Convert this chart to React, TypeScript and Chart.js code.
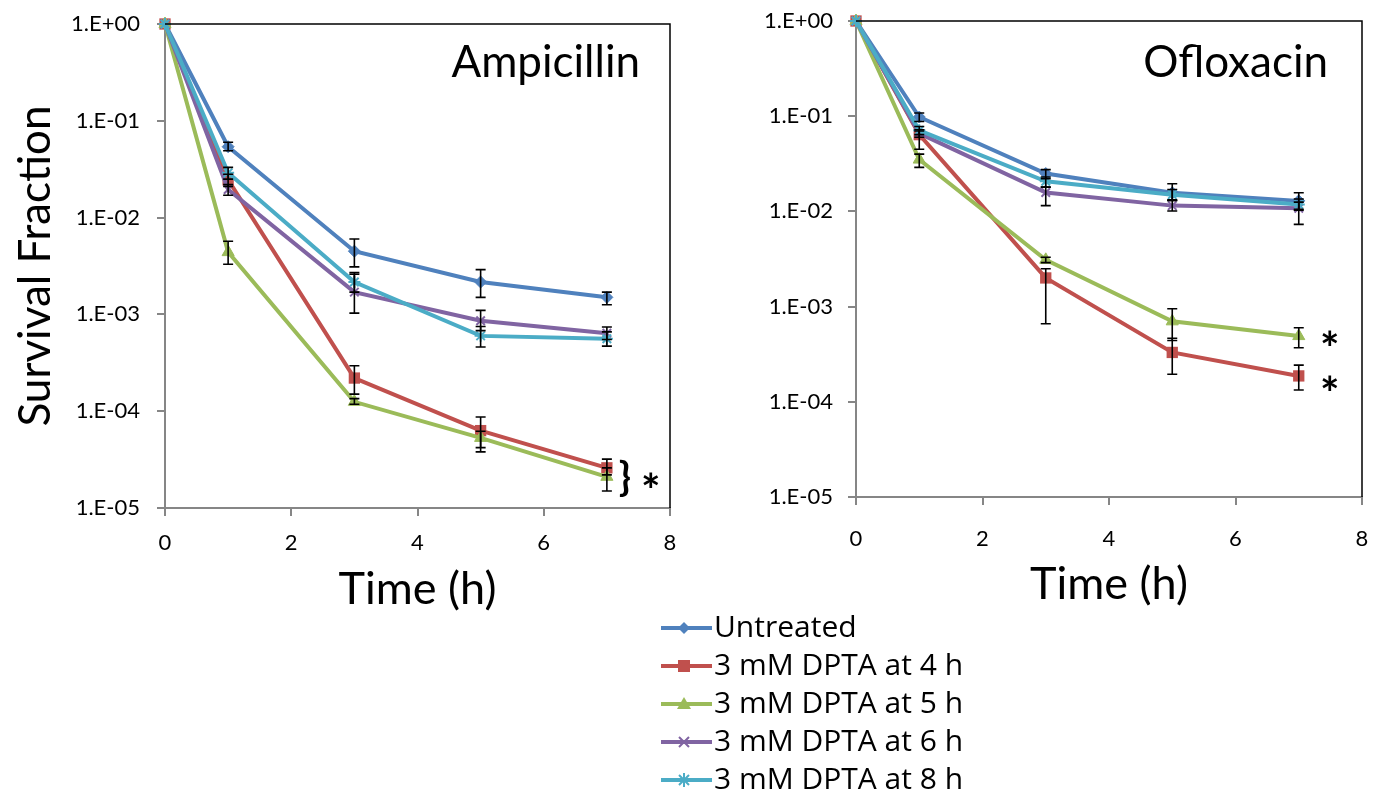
import React, { useEffect, useRef } from "react";
import { Chart, registerables } from "chart.js";
Chart.register(...registerables);

const FONT = "Lato, 'Open Sans', sans-serif";
const LEGEND_FONT = "'Open Sans', Lato, sans-serif";

// ---------- data ----------
const timesH = [0, 1, 3, 5, 7];
const seriesNames = [
  "Untreated",
  "3 mM DPTA at 4 h",
  "3 mM DPTA at 5 h",
  "3 mM DPTA at 6 h",
  "3 mM DPTA at 8 h",
];
const seriesColors = ["#4F81BD", "#C0504D", "#9BBB59", "#8064A2", "#4BACC6"];
const seriesMarkers = ["rectRot", "rect", "triangle", "crossRot", "star"];
const yTickValues = [1, 1e-1, 1e-2, 1e-3, 1e-4, 1e-5];
const yTickLabels = ["1.E+00", "1.E-01", "1.E-02", "1.E-03", "1.E-04", "1.E-05"];
const xTickValues = [0, 2, 4, 6, 8];

// Ampicillin
const ampUntreated = [1, 0.054, 0.0045, 0.00216, 0.0015];
const ampUntreatedHi = [null, 0.06, 0.006, 0.0029, 0.0017];
const ampUntreatedLo = [null, 0.049, 0.0031, 0.0015, 0.00126];
const ampDpta4 = [1, 0.0245, 0.00022, 0.000063, 0.000026];
const ampDpta4Hi = [null, 0.028, 0.000295, 0.000087, 0.000032];
const ampDpta4Lo = [null, 0.021, 0.00015, 0.000042, 0.000022];
const ampDpta5 = [1, 0.0044, 0.000125, 0.000053, 0.000021];
const ampDpta5Hi = [null, 0.0057, 0.000135, 0.000062, 0.000026];
const ampDpta5Lo = [null, 0.0033, 0.000118, 0.000038, 0.000015];
const ampDpta6 = [1, 0.0195, 0.0017, 0.00086, 0.00064];
const ampDpta6Hi = [null, 0.022, 0.0026, 0.0011, 0.00074];
const ampDpta6Lo = [null, 0.017, 0.00103, 0.00068, 0.00055];
const ampDpta8 = [1, 0.029, 0.00216, 0.0006, 0.00056];
const ampDpta8Hi = [null, 0.033, 0.0027, 0.00075, 0.00066];
const ampDpta8Lo = [null, 0.025, 0.0017, 0.00046, 0.00047];

// Ofloxacin
const oflUntreated = [1, 0.098, 0.025, 0.0157, 0.0129];
const oflUntreatedHi = [null, 0.108, 0.0275, 0.0195, 0.0157];
const oflUntreatedLo = [null, 0.088, 0.022, 0.013, 0.0105];
const oflDpta4 = [1, 0.064, 0.002, 0.00033, 0.000187];
const oflDpta4Hi = [null, 0.07, 0.0025, 0.000465, 0.000243];
const oflDpta4Lo = [null, 0.045, 0.00066, 0.000195, 0.000133];
const oflDpta5 = [1, 0.035, 0.0031, 0.0007, 0.00049];
const oflDpta5Hi = [null, 0.04, 0.0033, 0.00095, 0.0006];
const oflDpta5Lo = [null, 0.029, 0.0029, 0.00044, 0.00037];
const oflDpta6 = [1, 0.066, 0.0158, 0.0115, 0.0108];
const oflDpta6Hi = [null, 0.072, 0.018, 0.013, 0.0125];
const oflDpta6Lo = [null, 0.06, 0.0115, 0.0101, 0.0073];
const oflDpta8 = [1, 0.071, 0.0207, 0.015, 0.0118];
const oflDpta8Hi = [null, 0.078, 0.023, 0.017, 0.0135];
const oflDpta8Lo = [null, 0.064, 0.018, 0.0132, 0.0103];

// ---------- plugins ----------
const errorBarPlugin = {
  id: "errorBars",
  afterDatasetsDraw(chart: any) {
    const { ctx } = chart;
    const x = chart.scales.x;
    const y = chart.scales.y;
    ctx.save();
    ctx.strokeStyle = "#000";
    ctx.lineWidth = 1.6;
    chart.data.datasets.forEach((ds: any) => {
      (ds.errHi || []).forEach((h: number | null, j: number) => {
        const l = ds.errLo[j];
        if (h == null || l == null) return;
        const px = x.getPixelForValue(timesH[j]);
        const yh = y.getPixelForValue(h);
        const yl = y.getPixelForValue(l);
        ctx.beginPath();
        ctx.moveTo(px, yh);
        ctx.lineTo(px, yl);
        ctx.moveTo(px - 5, yh);
        ctx.lineTo(px + 5, yh);
        ctx.moveTo(px - 5, yl);
        ctx.lineTo(px + 5, yl);
        ctx.stroke();
      });
    });
    ctx.restore();
  },
};

const frameAndTextPlugin = {
  id: "frameText",
  afterDraw(chart: any) {
    const { ctx, chartArea } = chart;
    const o = chart.options.plugins.frameText;
    ctx.save();
    ctx.strokeStyle = "#000";
    ctx.lineWidth = 1.5;
    ctx.beginPath();
    ctx.moveTo(chartArea.left, chartArea.top);
    ctx.lineTo(chartArea.right, chartArea.top);
    ctx.lineTo(chartArea.right, chartArea.bottom);
    ctx.stroke();
    // drug name
    ctx.fillStyle = "#000";
    ctx.font = `44px ${FONT}`;
    ctx.textAlign = "right";
    ctx.textBaseline = "middle";
    ctx.fillText(o.drugName, chartArea.right - o.titleDx, chartArea.top + o.titleDy);
    // significance marks
    const x = chart.scales.x;
    const y = chart.scales.y;
    const ds = chart.data.datasets;
    const last = timesH.length - 1;
    const px = x.getPixelForValue(timesH[last]);
    ctx.textAlign = "center";
    if (o.marks === "brace") {
      const y1 = y.getPixelForValue(ds[1].data[last]);
      const y2 = y.getPixelForValue(ds[2].data[last]);
      const ym = (y1 + y2) / 2 + 6;
      ctx.font = `bold 40px ${FONT}`;
      ctx.fillText("}", px + 18, ym);
      ctx.font = `bold 46px ${FONT}`;
      ctx.fillText("*", px + 44, ym + 14);
    } else {
      ctx.font = `bold 46px ${FONT}`;
      [2, 1].forEach((k, n) => {
        const yy = y.getPixelForValue(ds[k].data[last]);
        ctx.fillText("*", px + 31, yy + 14 + n * 5);
      });
    }
    ctx.restore();
  },
};

function findTickLabel(v: number) {
  const i = yTickValues.findIndex((t) => Math.abs(Math.log10(t) - Math.log10(v)) < 1e-6);
  return i >= 0 ? yTickLabels[i] : "";
}

type PanelProps = {
  left: number;
  top: number;
  width: number;
  height: number;
  padTop: number;
  padRight: number;
  yAxisWidth: number;
  xAxisHeight: number;
  yTickPad: number;
  xTickPad: number;
  xTitlePadBottom: number;
  yTitle: string | null;
  drugName: string;
  titleDx: number;
  titleDy: number;
  marks: string;
  values: number[][];
  his: (number | null)[][];
  los: (number | null)[][];
};

function Panel(p: PanelProps) {
  const ref = useRef<HTMLCanvasElement | null>(null);
  useEffect(() => {
    if (!ref.current) return;
    const datasets = seriesNames.map((name, i) => ({
      label: name,
      data: p.values[i],
      borderColor: seriesColors[i],
      backgroundColor: seriesColors[i],
      pointBackgroundColor: seriesColors[i],
      pointBorderColor: seriesColors[i],
      pointStyle: seriesMarkers[i],
      pointRadius: [6, 8, 7, 6, 6][i],
      pointBorderWidth: [1, 0, 1, 2, 2][i],
      borderWidth: 4,
      tension: 0,
      clip: false,
      order: seriesNames.length - i,
      errHi: p.his[i],
      errLo: p.los[i],
    }));
    const chart = new Chart(ref.current, {
      type: "line",
      data: { labels: timesH, datasets: datasets as any },
      plugins: [errorBarPlugin, frameAndTextPlugin],
      options: {
        animation: false,
        responsive: false,
        layout: { padding: { top: p.padTop, right: p.padRight, left: 0, bottom: 0 } },
        plugins: {
          legend: { display: false },
          tooltip: { enabled: false },
          frameText: {
            drugName: p.drugName,
            titleDx: p.titleDx,
            titleDy: p.titleDy,
            marks: p.marks,
          },
        } as any,
        scales: {
          x: {
            type: "linear",
            min: 0,
            max: 8,
            afterBuildTicks: (s: any) => {
              s.ticks = xTickValues.map((v) => ({ value: v }));
            },
            afterFit: (s: any) => {
              s.height = p.xAxisHeight;
              s.paddingLeft = 0;
              s.paddingRight = 0;
            },
            ticks: {
              color: "#000",
              font: { family: FONT, size: 22 },
              padding: p.xTickPad,
              maxRotation: 0,
              autoSkip: false,
              callback: (v: any) => String(v),
            },
            grid: {
              display: true,
              drawOnChartArea: false,
              drawTicks: true,
              tickLength: 8,
              color: "#868686",
              lineWidth: 2,
            },
            border: { display: true, color: "#868686", width: 2 },
            title: {
              display: true,
              text: "Time (h)",
              color: "#000",
              font: { family: FONT, size: 45 },
              padding: { top: 0, bottom: p.xTitlePadBottom },
            },
          },
          y: {
            type: "logarithmic",
            min: 1e-5,
            max: 1,
            afterBuildTicks: (s: any) => {
              s.ticks = yTickValues.map((v) => ({ value: v }));
            },
            afterFit: (s: any) => {
              s.width = p.yAxisWidth;
              s.paddingTop = 0;
              s.paddingBottom = 0;
            },
            ticks: {
              color: "#000",
              font: { family: FONT, size: 22 },
              padding: p.yTickPad,
              autoSkip: false,
              callback: (v: any) => findTickLabel(Number(v)),
            },
            grid: {
              display: true,
              drawOnChartArea: false,
              drawTicks: true,
              tickLength: 8,
              color: "#868686",
              lineWidth: 2,
            },
            border: { display: true, color: "#868686", width: 2 },
            title: {
              display: !!p.yTitle,
              text: p.yTitle || "",
              color: "#000",
              font: { family: FONT, size: 44 },
              padding: { top: 9, bottom: 0 },
            },
          },
        },
      } as any,
    });
    return () => chart.destroy();
  }, []);
  return (
    <canvas
      ref={ref}
      width={p.width}
      height={p.height}
      style={{ position: "absolute", left: p.left, top: p.top, width: p.width, height: p.height }}
    />
  );
}

function makeIcon(color: string, marker: string) {
  const c = document.createElement("canvas");
  c.width = 56;
  c.height = 22;
  const g = c.getContext("2d")!;
  const cx = 28;
  const cy = 11;
  g.strokeStyle = color;
  g.fillStyle = color;
  g.lineWidth = 4;
  g.beginPath();
  g.moveTo(0, cy);
  g.lineTo(56, cy);
  g.stroke();
  g.lineWidth = 2;
  g.beginPath();
  if (marker === "rectRot") {
    g.moveTo(cx, cy - 6);
    g.lineTo(cx + 6, cy);
    g.lineTo(cx, cy + 6);
    g.lineTo(cx - 6, cy);
    g.closePath();
    g.fill();
  } else if (marker === "rect") {
    g.fillRect(cx - 6, cy - 6, 12, 12);
  } else if (marker === "triangle") {
    g.moveTo(cx, cy - 7);
    g.lineTo(cx + 7, cy + 5);
    g.lineTo(cx - 7, cy + 5);
    g.closePath();
    g.fill();
  } else if (marker === "crossRot") {
    g.moveTo(cx - 5, cy - 5);
    g.lineTo(cx + 5, cy + 5);
    g.moveTo(cx + 5, cy - 5);
    g.lineTo(cx - 5, cy + 5);
    g.stroke();
  } else {
    g.moveTo(cx - 5, cy - 5);
    g.lineTo(cx + 5, cy + 5);
    g.moveTo(cx + 5, cy - 5);
    g.lineTo(cx - 5, cy + 5);
    g.moveTo(cx, cy - 7);
    g.lineTo(cx, cy + 7);
    g.stroke();
  }
  return c;
}

function Legend() {
  const ref = useRef<HTMLCanvasElement | null>(null);
  useEffect(() => {
    if (!ref.current) return;
    const icons = seriesNames.map((_, i) => makeIcon(seriesColors[i], seriesMarkers[i]));
    const chart = new Chart(ref.current, {
      type: "line",
      data: {
        labels: [],
        datasets: seriesNames.map((n, i) => ({ label: n, data: [], borderColor: seriesColors[i] })),
      },
      options: {
        animation: false,
        responsive: false,
        layout: { padding: { left: 20, top: 0 } },
        scales: { x: { display: false }, y: { display: false } },
        plugins: {
          tooltip: { enabled: false },
          legend: {
            display: true,
            position: "left",
            align: "start",
            maxWidth: 400,
            labels: {
              usePointStyle: true,
              pointStyleWidth: 30,
              padding: 8,
              color: "#000",
              font: { family: LEGEND_FONT, size: 30 },
              generateLabels: () =>
                seriesNames.map((n, i) => ({
                  text: n,
                  fillStyle: seriesColors[i],
                  strokeStyle: seriesColors[i],
                  lineWidth: 0,
                  pointStyle: icons[i],
                  hidden: false,
                  datasetIndex: i,
                  fontColor: "#000",
                })),
            },
          },
        },
      } as any,
    });
    return () => chart.destroy();
  }, []);
  return (
    <canvas
      ref={ref}
      width={440}
      height={215}
      style={{ position: "absolute", left: 641, top: 605, width: 440, height: 215 }}
    />
  );
}

export default function App() {
  return (
    <div
      style={{
        position: "fixed",
        left: 0,
        top: 0,
        width: 1377,
        height: 794,
        overflow: "hidden",
        background: "#fff",
      }}
    >
      <Panel
        left={0}
        top={0}
        width={690}
        height={620}
        padTop={24}
        padRight={20}
        yAxisWidth={165}
        xAxisHeight={112}
        yTickPad={17}
        xTickPad={14}
        xTitlePadBottom={4}
        yTitle="Survival Fraction"
        drugName="Ampicillin"
        titleDx={30}
        titleDy={39}
        marks="brace"
        values={[ampUntreated, ampDpta4, ampDpta5, ampDpta6, ampDpta8]}
        his={[ampUntreatedHi, ampDpta4Hi, ampDpta5Hi, ampDpta6Hi, ampDpta8Hi]}
        los={[ampUntreatedLo, ampDpta4Lo, ampDpta5Lo, ampDpta6Lo, ampDpta8Lo]}
      />
      <Panel
        left={700}
        top={0}
        width={677}
        height={620}
        padTop={21}
        padRight={15}
        yAxisWidth={156}
        xAxisHeight={123}
        yTickPad={15}
        xTickPad={21}
        xTitlePadBottom={9}
        yTitle={null}
        drugName="Ofloxacin"
        titleDx={34}
        titleDy={42}
        marks="stars"
        values={[oflUntreated, oflDpta4, oflDpta5, oflDpta6, oflDpta8]}
        his={[oflUntreatedHi, oflDpta4Hi, oflDpta5Hi, oflDpta6Hi, oflDpta8Hi]}
        los={[oflUntreatedLo, oflDpta4Lo, oflDpta5Lo, oflDpta6Lo, oflDpta8Lo]}
      />
      <Legend />
    </div>
  );
}
